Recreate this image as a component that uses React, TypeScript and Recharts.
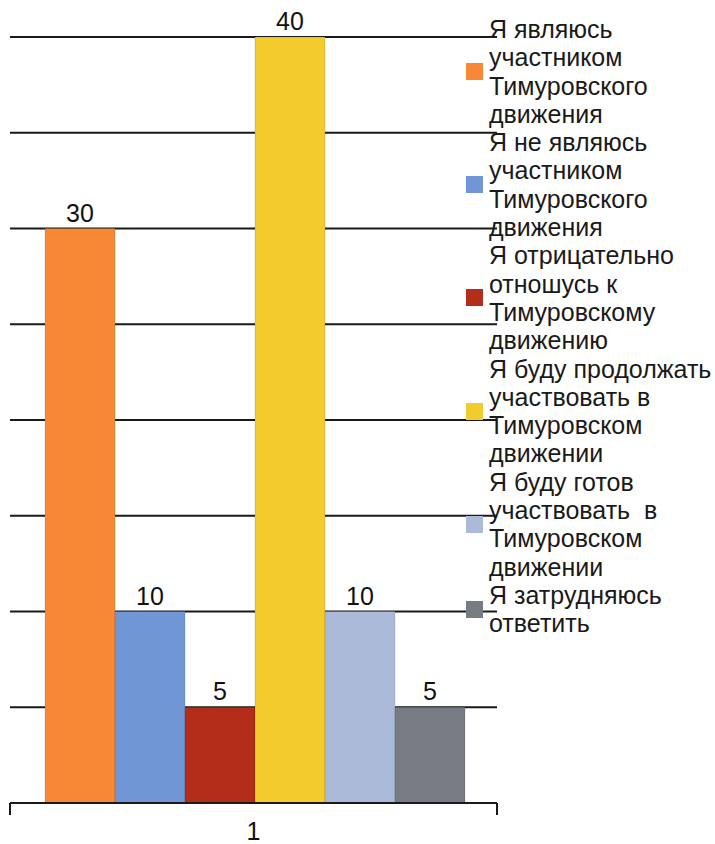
import { BarChart, Bar, XAxis, YAxis, CartesianGrid, Legend, LabelList } from "recharts";

const categories = ["1"];
const seriesNames = [
  "Я являюсь\nучастником\nТимуровского\nдвижения",
  "Я не являюсь\nучастником\nТимуровского\nдвижения",
  "Я отрицательно\nотношусь к\nТимуровскому\nдвижению",
  "Я буду продолжать\nучаствовать в\nТимуровском\nдвижении",
  "Я буду готов\nучаствовать  в\nТимуровском\nдвижении",
  "Я затрудняюсь\nответить",
];
const seriesValues = [[30], [10], [5], [40], [10], [5]];
const seriesColors = ["#F98836", "#7096D6", "#B32D18", "#F4CB2C", "#ACBAD9", "#777B83"];
const yTicks = [0, 5, 10, 15, 20, 25, 30, 35, 40];

const data = categories.map((name, i) => {
  const row: Record<string, string | number> = { name };
  seriesValues.forEach((vals, s) => {
    row["s" + s] = vals[i];
  });
  return row;
});

const FONT = '"Liberation Sans", Arial, sans-serif';
const INK = "#1a1a1a";

// category label plus the tick marks at both ends of its band
const CategoryTick = (props: any) => {
  const { x, y, width, payload } = props;
  const half = (width || 0) / 2;
  return (
    <g>
      <line x1={x - half} y1={y} x2={x - half} y2={y + 12} stroke={INK} strokeWidth={2} />
      <line x1={x + half} y1={y} x2={x + half} y2={y + 12} stroke={INK} strokeWidth={2} />
      <text x={x} y={y + 37} textAnchor="middle" fontFamily={FONT} fontSize={25} fill="#111">
        {payload.value}
      </text>
    </g>
  );
};

const LegendBox = (props: any) => {
  // keep the series order, not the alphabetical one
  const items = [...(props.payload || [])].sort(
    (a: any, b: any) => seriesNames.indexOf(a.value) - seriesNames.indexOf(b.value)
  );
  return (
    <div style={{ fontFamily: FONT, fontSize: 25, lineHeight: "28.3px", color: INK }}>
      {items.map((p: any, i: number) => (
        <div key={i} style={{ display: "flex", alignItems: "center" }}>
          <span
            style={{
              width: 17,
              height: 17,
              background: p.color,
              marginRight: 6,
              flex: "none",
            }}
          />
          <span style={{ whiteSpace: "pre" }}>{p.value}</span>
        </div>
      ))}
    </div>
  );
};

export default function App() {
  return (
    <div style={{ position: "absolute", left: 0, top: 0, background: "#fff" }}>
      <BarChart
        width={715}
        height={844}
        data={data}
        margin={{ top: 37, right: 218, left: 10, bottom: 0 }}
        barCategoryGap={35}
        barGap={0}
      >
        <CartesianGrid horizontal vertical={false} stroke={INK} strokeWidth={2} />
        <XAxis
          dataKey="name"
          height={41}
          axisLine={{ stroke: INK, strokeWidth: 2 }}
          tickLine={false}
          tickSize={0}
          tickMargin={0}
          tick={<CategoryTick />}
        />
        <YAxis hide domain={[0, 40]} ticks={yTicks} />
        <Legend
          layout="vertical"
          align="center"
          verticalAlign="middle"
          content={<LegendBox />}
          wrapperStyle={{ left: 466, top: 15, width: 249, height: "auto" }}
        />
        {seriesNames.map((n, s) => (
          <Bar
            key={s}
            dataKey={"s" + s}
            name={n}
            fill={seriesColors[s]}
            stroke="rgba(0,0,0,0.12)"
            strokeWidth={1}
            isAnimationActive={false}
          >
            <LabelList
              dataKey={"s" + s}
              position="top"
              offset={7}
              style={{ fontFamily: FONT, fontSize: 25, fill: "#111" }}
            />
          </Bar>
        ))}
      </BarChart>
    </div>
  );
}
